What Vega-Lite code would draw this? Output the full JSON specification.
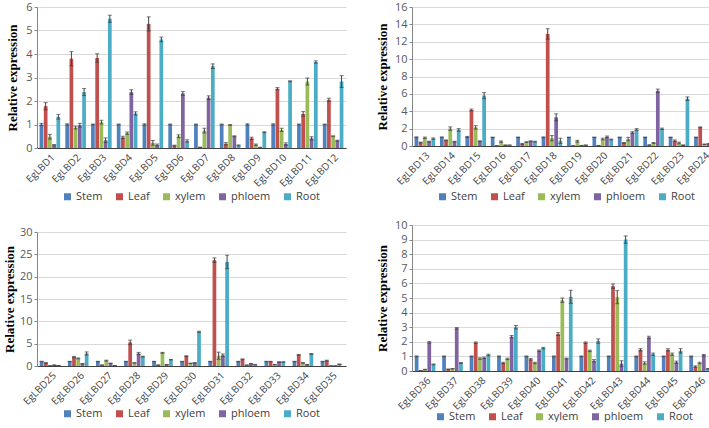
{
  "$schema": "https://vega.github.io/schema/vega-lite/v6.json",
  "background": "white",
  "padding": {"left": 3, "top": 1, "right": 0, "bottom": 0},
  "autosize": {"type": "pad"},
  "config": {
    "view": {"stroke": null},
    "axisX": {"labelAngle": -45, "labelFont": "Open Sans", "labelFontSize": 10, "labelColor": "#404040", "ticks": false, "domainColor": "#404040", "title": null, "labelPadding": 4, "grid": false},
    "axisY": {"labelFont": "Open Sans", "labelFontSize": 11, "labelColor": "#595959", "tickSize": 3, "tickColor": "#868686", "domainColor": "#868686", "gridColor": "#d9d9d9", "labelPadding": 2, "titleFont": "Liberation Serif", "titleFontWeight": "bold", "titleFontSize": 13, "titleColor": "#000000"},
    "legend": {"orient": "none", "direction": "horizontal", "title": null, "symbolType": "square", "symbolSize": 49, "symbolStrokeWidth": 0, "labelFont": "Open Sans", "labelFontSize": 11, "labelColor": "#404040", "columnPadding": 11, "labelOffset": 3}
  },
  "datasets": {
    "p1": [
      {"g":"EgLBD1","t":"Stem","v":1.0,"e":0.05},{"g":"EgLBD1","t":"Leaf","v":1.78,"e":0.15},{"g":"EgLBD1","t":"xylem","v":0.48,"e":0.1},{"g":"EgLBD1","t":"phloem","v":0.12,"e":0.03},{"g":"EgLBD1","t":"Root","v":1.33,"e":0.1},
      {"g":"EgLBD2","t":"Stem","v":1.0,"e":0.03},{"g":"EgLBD2","t":"Leaf","v":3.8,"e":0.3},{"g":"EgLBD2","t":"xylem","v":0.87,"e":0.06},{"g":"EgLBD2","t":"phloem","v":0.97,"e":0.08},{"g":"EgLBD2","t":"Root","v":2.38,"e":0.15},
      {"g":"EgLBD3","t":"Stem","v":1.0,"e":0.02},{"g":"EgLBD3","t":"Leaf","v":3.83,"e":0.18},{"g":"EgLBD3","t":"xylem","v":1.1,"e":0.08},{"g":"EgLBD3","t":"phloem","v":0.33,"e":0.1},{"g":"EgLBD3","t":"Root","v":5.5,"e":0.15},
      {"g":"EgLBD4","t":"Stem","v":1.0,"e":0.02},{"g":"EgLBD4","t":"Leaf","v":0.45,"e":0.05},{"g":"EgLBD4","t":"xylem","v":0.63,"e":0.05},{"g":"EgLBD4","t":"phloem","v":2.38,"e":0.1},{"g":"EgLBD4","t":"Root","v":1.47,"e":0.07},
      {"g":"EgLBD5","t":"Stem","v":1.0,"e":0.03},{"g":"EgLBD5","t":"Leaf","v":5.28,"e":0.3},{"g":"EgLBD5","t":"xylem","v":0.22,"e":0.1},{"g":"EgLBD5","t":"phloem","v":0.13,"e":0.04},{"g":"EgLBD5","t":"Root","v":4.62,"e":0.1},
      {"g":"EgLBD6","t":"Stem","v":1.0,"e":0.02},{"g":"EgLBD6","t":"Leaf","v":0.1,"e":0.02},{"g":"EgLBD6","t":"xylem","v":0.5,"e":0.06},{"g":"EgLBD6","t":"phloem","v":2.32,"e":0.08},{"g":"EgLBD6","t":"Root","v":0.3,"e":0.05},
      {"g":"EgLBD7","t":"Stem","v":1.0,"e":0.02},{"g":"EgLBD7","t":"Leaf","v":0.03,"e":0.01},{"g":"EgLBD7","t":"xylem","v":0.74,"e":0.1},{"g":"EgLBD7","t":"phloem","v":2.14,"e":0.08},{"g":"EgLBD7","t":"Root","v":3.48,"e":0.1},
      {"g":"EgLBD8","t":"Stem","v":1.0,"e":0.02},{"g":"EgLBD8","t":"Leaf","v":0.18,"e":0.05},{"g":"EgLBD8","t":"xylem","v":0.98,"e":0.02},{"g":"EgLBD8","t":"phloem","v":0.5,"e":0.02},{"g":"EgLBD8","t":"Root","v":0.11,"e":0.02},
      {"g":"EgLBD9","t":"Stem","v":1.0,"e":0.03},{"g":"EgLBD9","t":"Leaf","v":0.41,"e":0.05},{"g":"EgLBD9","t":"xylem","v":0.14,"e":0.03},{"g":"EgLBD9","t":"phloem","v":0.02,"e":0.01},{"g":"EgLBD9","t":"Root","v":0.67,"e":0.02},
      {"g":"EgLBD10","t":"Stem","v":1.0,"e":0.03},{"g":"EgLBD10","t":"Leaf","v":2.52,"e":0.05},{"g":"EgLBD10","t":"xylem","v":0.77,"e":0.07},{"g":"EgLBD10","t":"phloem","v":0.17,"e":0.05},{"g":"EgLBD10","t":"Root","v":2.84,"e":0.02},
      {"g":"EgLBD11","t":"Stem","v":1.0,"e":0.02},{"g":"EgLBD11","t":"Leaf","v":1.45,"e":0.1},{"g":"EgLBD11","t":"xylem","v":2.83,"e":0.15},{"g":"EgLBD11","t":"phloem","v":0.41,"e":0.07},{"g":"EgLBD11","t":"Root","v":3.66,"e":0.05},
      {"g":"EgLBD12","t":"Stem","v":1.0,"e":0.02},{"g":"EgLBD12","t":"Leaf","v":2.05,"e":0.07},{"g":"EgLBD12","t":"xylem","v":0.5,"e":0.02},{"g":"EgLBD12","t":"phloem","v":0.31,"e":0.02},{"g":"EgLBD12","t":"Root","v":2.83,"e":0.25}
    ],
    "p2": [
      {"g":"EgLBD13","t":"Stem","v":1.0,"e":0.05},{"g":"EgLBD13","t":"Leaf","v":0.4,"e":0.05},{"g":"EgLBD13","t":"xylem","v":0.95,"e":0.08},{"g":"EgLBD13","t":"phloem","v":0.5,"e":0.05},{"g":"EgLBD13","t":"Root","v":0.85,"e":0.08},
      {"g":"EgLBD14","t":"Stem","v":1.0,"e":0.05},{"g":"EgLBD14","t":"Leaf","v":0.65,"e":0.05},{"g":"EgLBD14","t":"xylem","v":2.0,"e":0.2},{"g":"EgLBD14","t":"phloem","v":0.5,"e":0.05},{"g":"EgLBD14","t":"Root","v":1.85,"e":0.15},
      {"g":"EgLBD15","t":"Stem","v":1.05,"e":0.05},{"g":"EgLBD15","t":"Leaf","v":4.15,"e":0.1},{"g":"EgLBD15","t":"xylem","v":2.15,"e":0.2},{"g":"EgLBD15","t":"phloem","v":0.55,"e":0.05},{"g":"EgLBD15","t":"Root","v":5.8,"e":0.35},
      {"g":"EgLBD16","t":"Stem","v":1.0,"e":0.02},{"g":"EgLBD16","t":"Leaf","v":0.02,"e":0.01},{"g":"EgLBD16","t":"xylem","v":0.5,"e":0.08},{"g":"EgLBD16","t":"phloem","v":0.1,"e":0.02},{"g":"EgLBD16","t":"Root","v":0.1,"e":0.02},
      {"g":"EgLBD17","t":"Stem","v":1.0,"e":0.03},{"g":"EgLBD17","t":"Leaf","v":0.25,"e":0.05},{"g":"EgLBD17","t":"xylem","v":0.45,"e":0.05},{"g":"EgLBD17","t":"phloem","v":0.55,"e":0.05},{"g":"EgLBD17","t":"Root","v":0.5,"e":0.05},
      {"g":"EgLBD18","t":"Stem","v":1.0,"e":0.05},{"g":"EgLBD18","t":"Leaf","v":12.9,"e":0.6},{"g":"EgLBD18","t":"xylem","v":0.9,"e":0.3},{"g":"EgLBD18","t":"phloem","v":3.3,"e":0.4},{"g":"EgLBD18","t":"Root","v":0.6,"e":0.3},
      {"g":"EgLBD19","t":"Stem","v":1.0,"e":0.02},{"g":"EgLBD19","t":"Leaf","v":0.02,"e":0.01},{"g":"EgLBD19","t":"xylem","v":0.55,"e":0.1},{"g":"EgLBD19","t":"phloem","v":0.05,"e":0.02},{"g":"EgLBD19","t":"Root","v":0.1,"e":0.02},
      {"g":"EgLBD20","t":"Stem","v":1.0,"e":0.03},{"g":"EgLBD20","t":"Leaf","v":0.05,"e":0.02},{"g":"EgLBD20","t":"xylem","v":0.8,"e":0.1},{"g":"EgLBD20","t":"phloem","v":1.05,"e":0.1},{"g":"EgLBD20","t":"Root","v":0.75,"e":0.05},
      {"g":"EgLBD21","t":"Stem","v":1.0,"e":0.03},{"g":"EgLBD21","t":"Leaf","v":0.35,"e":0.05},{"g":"EgLBD21","t":"xylem","v":0.8,"e":0.2},{"g":"EgLBD21","t":"phloem","v":1.55,"e":0.1},{"g":"EgLBD21","t":"Root","v":1.9,"e":0.1},
      {"g":"EgLBD22","t":"Stem","v":1.0,"e":0.03},{"g":"EgLBD22","t":"Leaf","v":0.12,"e":0.02},{"g":"EgLBD22","t":"xylem","v":0.35,"e":0.05},{"g":"EgLBD22","t":"phloem","v":6.35,"e":0.2},{"g":"EgLBD22","t":"Root","v":1.98,"e":0.08},
      {"g":"EgLBD23","t":"Stem","v":1.0,"e":0.03},{"g":"EgLBD23","t":"Leaf","v":0.6,"e":0.1},{"g":"EgLBD23","t":"xylem","v":0.35,"e":0.1},{"g":"EgLBD23","t":"phloem","v":0.1,"e":0.03},{"g":"EgLBD23","t":"Root","v":5.45,"e":0.2},
      {"g":"EgLBD24","t":"Stem","v":1.0,"e":0.03},{"g":"EgLBD24","t":"Leaf","v":2.15,"e":0.05},{"g":"EgLBD24","t":"xylem","v":0.2,"e":0.03},{"g":"EgLBD24","t":"phloem","v":0.25,"e":0.03},{"g":"EgLBD24","t":"Root","v":1.7,"e":0.05}
    ],
    "p3": [
      {"g":"EgLBD25","t":"Stem","v":1.0,"e":0.05},{"g":"EgLBD25","t":"Leaf","v":0.7,"e":0.05},{"g":"EgLBD25","t":"xylem","v":0.05,"e":0.02},{"g":"EgLBD25","t":"phloem","v":0.2,"e":0.05},{"g":"EgLBD25","t":"Root","v":0.1,"e":0.02},
      {"g":"EgLBD26","t":"Stem","v":1.0,"e":0.05},{"g":"EgLBD26","t":"Leaf","v":2.0,"e":0.15},{"g":"EgLBD26","t":"xylem","v":1.7,"e":0.1},{"g":"EgLBD26","t":"phloem","v":0.5,"e":0.05},{"g":"EgLBD26","t":"Root","v":2.8,"e":0.35},
      {"g":"EgLBD27","t":"Stem","v":1.0,"e":0.05},{"g":"EgLBD27","t":"Leaf","v":0.2,"e":0.05},{"g":"EgLBD27","t":"xylem","v":1.2,"e":0.1},{"g":"EgLBD27","t":"phloem","v":0.6,"e":0.05},{"g":"EgLBD27","t":"Root","v":0.1,"e":0.02},
      {"g":"EgLBD28","t":"Stem","v":1.0,"e":0.05},{"g":"EgLBD28","t":"Leaf","v":5.3,"e":0.5},{"g":"EgLBD28","t":"xylem","v":0.7,"e":0.05},{"g":"EgLBD28","t":"phloem","v":2.8,"e":0.25},{"g":"EgLBD28","t":"Root","v":2.1,"e":0.1},
      {"g":"EgLBD29","t":"Stem","v":1.0,"e":0.05},{"g":"EgLBD29","t":"Leaf","v":0.2,"e":0.05},{"g":"EgLBD29","t":"xylem","v":2.95,"e":0.1},{"g":"EgLBD29","t":"phloem","v":0.3,"e":0.05},{"g":"EgLBD29","t":"Root","v":1.4,"e":0.05},
      {"g":"EgLBD30","t":"Stem","v":1.0,"e":0.05},{"g":"EgLBD30","t":"Leaf","v":2.2,"e":0.1},{"g":"EgLBD30","t":"xylem","v":0.6,"e":0.05},{"g":"EgLBD30","t":"phloem","v":0.7,"e":0.05},{"g":"EgLBD30","t":"Root","v":7.65,"e":0.15},
      {"g":"EgLBD31","t":"Stem","v":1.0,"e":0.05},{"g":"EgLBD31","t":"Leaf","v":23.7,"e":0.5},{"g":"EgLBD31","t":"xylem","v":2.3,"e":0.8},{"g":"EgLBD31","t":"phloem","v":2.4,"e":0.3},{"g":"EgLBD31","t":"Root","v":23.3,"e":1.5},
      {"g":"EgLBD32","t":"Stem","v":1.0,"e":0.05},{"g":"EgLBD32","t":"Leaf","v":1.5,"e":0.1},{"g":"EgLBD32","t":"xylem","v":0.2,"e":0.05},{"g":"EgLBD32","t":"phloem","v":0.5,"e":0.05},{"g":"EgLBD32","t":"Root","v":0.3,"e":0.05},
      {"g":"EgLBD33","t":"Stem","v":1.0,"e":0.05},{"g":"EgLBD33","t":"Leaf","v":1.0,"e":0.05},{"g":"EgLBD33","t":"xylem","v":0.3,"e":0.05},{"g":"EgLBD33","t":"phloem","v":0.9,"e":0.05},{"g":"EgLBD33","t":"Root","v":0.9,"e":0.05},
      {"g":"EgLBD34","t":"Stem","v":1.0,"e":0.05},{"g":"EgLBD34","t":"Leaf","v":2.5,"e":0.1},{"g":"EgLBD34","t":"xylem","v":0.7,"e":0.1},{"g":"EgLBD34","t":"phloem","v":0.3,"e":0.05},{"g":"EgLBD34","t":"Root","v":2.7,"e":0.1},
      {"g":"EgLBD35","t":"Stem","v":1.0,"e":0.05},{"g":"EgLBD35","t":"Leaf","v":1.2,"e":0.1},{"g":"EgLBD35","t":"xylem","v":0.02,"e":0.01},{"g":"EgLBD35","t":"phloem","v":0.02,"e":0.01},{"g":"EgLBD35","t":"Root","v":0.4,"e":0.05}
    ],
    "p4": [
      {"g":"EgLBD36","t":"Stem","v":1.0,"e":0.03},{"g":"EgLBD36","t":"Leaf","v":0.02,"e":0.01},{"g":"EgLBD36","t":"xylem","v":0.1,"e":0.02},{"g":"EgLBD36","t":"phloem","v":1.96,"e":0.05},{"g":"EgLBD36","t":"Root","v":0.45,"e":0.03},
      {"g":"EgLBD37","t":"Stem","v":1.0,"e":0.03},{"g":"EgLBD37","t":"Leaf","v":0.12,"e":0.02},{"g":"EgLBD37","t":"xylem","v":0.15,"e":0.02},{"g":"EgLBD37","t":"phloem","v":2.92,"e":0.05},{"g":"EgLBD37","t":"Root","v":0.55,"e":0.03},
      {"g":"EgLBD38","t":"Stem","v":1.0,"e":0.03},{"g":"EgLBD38","t":"Leaf","v":1.94,"e":0.05},{"g":"EgLBD38","t":"xylem","v":0.85,"e":0.05},{"g":"EgLBD38","t":"phloem","v":0.9,"e":0.05},{"g":"EgLBD38","t":"Root","v":1.1,"e":0.05},
      {"g":"EgLBD39","t":"Stem","v":1.0,"e":0.03},{"g":"EgLBD39","t":"Leaf","v":0.55,"e":0.05},{"g":"EgLBD39","t":"xylem","v":0.83,"e":0.05},{"g":"EgLBD39","t":"phloem","v":2.35,"e":0.08},{"g":"EgLBD39","t":"Root","v":3.0,"e":0.12},
      {"g":"EgLBD40","t":"Stem","v":1.0,"e":0.03},{"g":"EgLBD40","t":"Leaf","v":0.8,"e":0.05},{"g":"EgLBD40","t":"xylem","v":0.55,"e":0.05},{"g":"EgLBD40","t":"phloem","v":1.39,"e":0.05},{"g":"EgLBD40","t":"Root","v":1.57,"e":0.05},
      {"g":"EgLBD41","t":"Stem","v":1.0,"e":0.03},{"g":"EgLBD41","t":"Leaf","v":2.53,"e":0.1},{"g":"EgLBD41","t":"xylem","v":4.85,"e":0.15},{"g":"EgLBD41","t":"phloem","v":0.85,"e":0.03},{"g":"EgLBD41","t":"Root","v":5.08,"e":0.45},
      {"g":"EgLBD42","t":"Stem","v":1.0,"e":0.03},{"g":"EgLBD42","t":"Leaf","v":1.94,"e":0.05},{"g":"EgLBD42","t":"xylem","v":1.38,"e":0.05},{"g":"EgLBD42","t":"phloem","v":0.7,"e":0.08},{"g":"EgLBD42","t":"Root","v":2.05,"e":0.15},
      {"g":"EgLBD43","t":"Stem","v":1.0,"e":0.03},{"g":"EgLBD43","t":"Leaf","v":5.81,"e":0.15},{"g":"EgLBD43","t":"xylem","v":5.06,"e":0.45},{"g":"EgLBD43","t":"phloem","v":0.5,"e":0.2},{"g":"EgLBD43","t":"Root","v":9.0,"e":0.25},
      {"g":"EgLBD44","t":"Stem","v":1.0,"e":0.03},{"g":"EgLBD44","t":"Leaf","v":1.45,"e":0.08},{"g":"EgLBD44","t":"xylem","v":0.55,"e":0.08},{"g":"EgLBD44","t":"phloem","v":2.3,"e":0.08},{"g":"EgLBD44","t":"Root","v":1.15,"e":0.08},
      {"g":"EgLBD45","t":"Stem","v":1.0,"e":0.03},{"g":"EgLBD45","t":"Leaf","v":1.45,"e":0.08},{"g":"EgLBD45","t":"xylem","v":1.15,"e":0.08},{"g":"EgLBD45","t":"phloem","v":0.6,"e":0.08},{"g":"EgLBD45","t":"Root","v":1.38,"e":0.15},
      {"g":"EgLBD46","t":"Stem","v":1.0,"e":0.03},{"g":"EgLBD46","t":"Leaf","v":0.3,"e":0.05},{"g":"EgLBD46","t":"xylem","v":0.55,"e":0.05},{"g":"EgLBD46","t":"phloem","v":1.08,"e":0.05},{"g":"EgLBD46","t":"Root","v":0.15,"e":0.02}
    ]
  },
  "spacing": 30,
  "resolve": {"scale": {"color": "independent"}, "legend": {"color": "independent"}},
  "hconcat": [
    {
      "vconcat": [
        {
          "width": 309, "height": 141,
          "data": {"name": "p1"},
          "encoding": {
            "x": {"field": "g", "type": "nominal", "sort": null, "scale": {"paddingInner": 0.2, "paddingOuter": 0.1}},
            "xOffset": {"field": "t", "type": "nominal", "sort": ["Stem", "Leaf", "xylem", "phloem", "Root"], "scale": {"paddingInner": 0.12}},
            "y": {"field": "v", "type": "quantitative", "scale": {"domain": [0, 6], "nice": false}, "axis": {"title": "Relative expression", "values": [0, 1, 2, 3, 4, 5, 6], "titlePadding": 6}}
          },
          "layer": [
            {"mark": {"type": "bar"}, "encoding": {"color": {"field": "t", "type": "nominal", "scale": {"domain": ["Stem", "Leaf", "xylem", "phloem", "Root"], "range": ["#4f81bd", "#c0504d", "#9bbb59", "#8064a2", "#4bacc6"]}, "legend": {"legendX": 25, "legendY": 184}}}},
            {"mark": {"type": "errorbar", "ticks": {"size": 4}, "color": "#404040", "thickness": 1}, "encoding": {"yError": {"field": "e"}}}
          ]
        },
        {
          "width": 309, "height": 134,
          "data": {"name": "p3"},
          "encoding": {
            "x": {"field": "g", "type": "nominal", "sort": null, "scale": {"paddingInner": 0.2, "paddingOuter": 0.1}},
            "xOffset": {"field": "t", "type": "nominal", "sort": ["Stem", "Leaf", "xylem", "phloem", "Root"], "scale": {"paddingInner": 0.12}},
            "y": {"field": "v", "type": "quantitative", "scale": {"domain": [0, 30], "nice": false}, "axis": {"title": "Relative expression", "values": [0, 5, 10, 15, 20, 25, 30], "titlePadding": 3}}
          },
          "layer": [
            {"mark": {"type": "bar"}, "encoding": {"color": {"field": "t", "type": "nominal", "scale": {"domain": ["Stem", "Leaf", "xylem", "phloem", "Root"], "range": ["#4f81bd", "#c0504d", "#9bbb59", "#8064a2", "#4bacc6"]}, "legend": {"legendX": 25, "legendY": 176}}}},
            {"mark": {"type": "errorbar", "ticks": {"size": 4}, "color": "#404040", "thickness": 1}, "encoding": {"yError": {"field": "e"}}}
          ]
        }
      ],
      "spacing": 84,
      "bounds": "flush",
      "resolve": {"scale": {"color": "independent"}, "legend": {"color": "independent"}}
    },
    {
      "vconcat": [
        {
          "width": 305, "height": 139,
          "data": {"name": "p2"},
          "encoding": {
            "x": {"field": "g", "type": "nominal", "sort": null, "scale": {"paddingInner": 0.2, "paddingOuter": 0.1}},
            "xOffset": {"field": "t", "type": "nominal", "sort": ["Stem", "Leaf", "xylem", "phloem", "Root"], "scale": {"paddingInner": 0.12}},
            "y": {"field": "v", "type": "quantitative", "scale": {"domain": [0, 16], "nice": false}, "axis": {"title": "Relative expression", "values": [0, 2, 4, 6, 8, 10, 12, 14, 16], "titlePadding": 5}}
          },
          "layer": [
            {"mark": {"type": "bar"}, "encoding": {"color": {"field": "t", "type": "nominal", "scale": {"domain": ["Stem", "Leaf", "xylem", "phloem", "Root"], "range": ["#4f81bd", "#c0504d", "#9bbb59", "#8064a2", "#4bacc6"]}, "legend": {"legendX": 25, "legendY": 184}}}},
            {"mark": {"type": "errorbar", "ticks": {"size": 4}, "color": "#404040", "thickness": 1}, "encoding": {"yError": {"field": "e"}}}
          ]
        },
        {
          "width": 302, "height": 146,
          "data": {"name": "p4"},
          "encoding": {
            "x": {"field": "g", "type": "nominal", "sort": null, "scale": {"paddingInner": 0.2, "paddingOuter": 0.1}},
            "xOffset": {"field": "t", "type": "nominal", "sort": ["Stem", "Leaf", "xylem", "phloem", "Root"], "scale": {"paddingInner": 0.12}},
            "y": {"field": "v", "type": "quantitative", "scale": {"domain": [0, 10], "nice": false}, "axis": {"title": "Relative expression", "values": [0, 1, 2, 3, 4, 5, 6, 7, 8, 9, 10], "titlePadding": 5}}
          },
          "layer": [
            {"mark": {"type": "bar"}, "encoding": {"color": {"field": "t", "type": "nominal", "scale": {"domain": ["Stem", "Leaf", "xylem", "phloem", "Root"], "range": ["#4f81bd", "#c0504d", "#9bbb59", "#8064a2", "#4bacc6"]}, "legend": {"legendX": 23, "legendY": 186}}}},
            {"mark": {"type": "errorbar", "ticks": {"size": 4}, "color": "#404040", "thickness": 1}, "encoding": {"yError": {"field": "e"}}}
          ]
        }
      ],
      "spacing": 79,
      "bounds": "flush",
      "resolve": {"scale": {"color": "independent"}, "legend": {"color": "independent"}}
    }
  ]
}
